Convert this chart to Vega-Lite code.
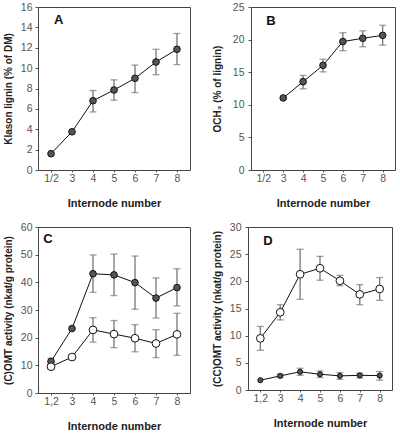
{
  "$schema": "https://vega.github.io/schema/vega-lite/v6.json",
  "padding": {"left": 2, "top": 1, "right": 2, "bottom": 1},
  "background": "white",
  "datasets": {
    "A": [
      {"node": "1/2", "s": "f", "value": 1.6},
      {"node": "3", "s": "f", "value": 3.75},
      {"node": "4", "s": "f", "value": 6.8, "lo": 5.7, "hi": 7.8},
      {"node": "5", "s": "f", "value": 7.85, "lo": 6.85, "hi": 8.85},
      {"node": "6", "s": "f", "value": 9.0, "lo": 7.6, "hi": 10.3},
      {"node": "7", "s": "f", "value": 10.6, "lo": 9.35, "hi": 11.85},
      {"node": "8", "s": "f", "value": 11.85, "lo": 10.35, "hi": 13.4}
    ],
    "B": [
      {"node": "3", "s": "f", "value": 11.05},
      {"node": "4", "s": "f", "value": 13.55, "lo": 12.45, "hi": 14.5},
      {"node": "5", "s": "f", "value": 16.05, "lo": 15.05, "hi": 17.0},
      {"node": "6", "s": "f", "value": 19.7, "lo": 18.3, "hi": 21.05},
      {"node": "7", "s": "f", "value": 20.2, "lo": 18.9, "hi": 21.35},
      {"node": "8", "s": "f", "value": 20.65, "lo": 19.15, "hi": 22.2}
    ],
    "C": [
      {"node": "1,2", "s": "f", "value": 11.4, "lo": 10.2, "hi": 12.6},
      {"node": "3", "s": "f", "value": 23.3},
      {"node": "4", "s": "f", "value": 43.1, "lo": 36.4, "hi": 49.9},
      {"node": "5", "s": "f", "value": 42.7, "lo": 35.2, "hi": 50.2},
      {"node": "6", "s": "f", "value": 39.9, "lo": 30.3, "hi": 49.5},
      {"node": "7", "s": "f", "value": 34.3, "lo": 27.1, "hi": 41.6},
      {"node": "8", "s": "f", "value": 38.1, "lo": 31.5, "hi": 44.9},
      {"node": "1,2", "s": "o", "value": 9.5, "lo": 8.6, "hi": 10.5},
      {"node": "3", "s": "o", "value": 13.0},
      {"node": "4", "s": "o", "value": 22.8, "lo": 18.4, "hi": 27.2},
      {"node": "5", "s": "o", "value": 21.3, "lo": 16.4, "hi": 26.2},
      {"node": "6", "s": "o", "value": 19.8, "lo": 14.9, "hi": 24.7},
      {"node": "7", "s": "o", "value": 17.9, "lo": 12.8, "hi": 22.9},
      {"node": "8", "s": "o", "value": 21.2, "lo": 13.6, "hi": 28.8}
    ],
    "D": [
      {"node": "1,2", "s": "o", "value": 9.5, "lo": 7.3, "hi": 11.7},
      {"node": "3", "s": "o", "value": 14.3, "lo": 12.9, "hi": 15.7},
      {"node": "4", "s": "o", "value": 21.3, "lo": 16.7, "hi": 25.9},
      {"node": "5", "s": "o", "value": 22.4, "lo": 20.2, "hi": 24.6},
      {"node": "6", "s": "o", "value": 20.1, "lo": 19.2, "hi": 21.1},
      {"node": "7", "s": "o", "value": 17.6, "lo": 15.7, "hi": 19.4},
      {"node": "8", "s": "o", "value": 18.6, "lo": 16.5, "hi": 20.7},
      {"node": "1,2", "s": "f", "value": 1.8},
      {"node": "3", "s": "f", "value": 2.6, "lo": 2.3, "hi": 2.9},
      {"node": "4", "s": "f", "value": 3.35, "lo": 2.7, "hi": 4.0},
      {"node": "5", "s": "f", "value": 2.9, "lo": 2.3, "hi": 3.5},
      {"node": "6", "s": "f", "value": 2.6, "lo": 1.95, "hi": 3.2},
      {"node": "7", "s": "f", "value": 2.7, "lo": 2.2, "hi": 3.1},
      {"node": "8", "s": "f", "value": 2.65, "lo": 1.8, "hi": 3.4}
    ]
  },
  "vconcat": [
    {
      "hconcat": [
        {
          "width": 152, "height": 163,
          "data": {"name": "A"},
          "encoding": {
            "x": {"field": "node", "type": "ordinal", "sort": null,
              "scale": {"type": "point", "domain": ["1/2", "3", "4", "5", "6", "7", "8"], "padding": 0.62},
              "axis": {"title": "Internode number"}}
          },
          "layer": [
            {"mark": {"type": "rule", "color": "#777", "strokeWidth": 1.3},
             "encoding": {"y": {"field": "lo", "type": "quantitative", "title": "Klason lignin (% of DM)", "scale": {"domain": [0, 16], "nice": false}, "axis": {"values": [0, 2, 4, 6, 8, 10, 12, 14, 16]}}, "y2": {"field": "hi"}}},
            {"mark": {"type": "tick", "color": "#777", "size": 7, "thickness": 1.3},
             "encoding": {"y": {"field": "lo", "type": "quantitative", "title": "Klason lignin (% of DM)", "axis": {"values": [0, 2, 4, 6, 8, 10, 12, 14, 16]}}}},
            {"mark": {"type": "tick", "color": "#777", "size": 7, "thickness": 1.3},
             "encoding": {"y": {"field": "hi", "type": "quantitative", "title": "Klason lignin (% of DM)", "axis": {"values": [0, 2, 4, 6, 8, 10, 12, 14, 16]}}}},
            {"mark": {"type": "line", "color": "#111", "strokeWidth": 1},
             "encoding": {"y": {"field": "value", "type": "quantitative", "title": "Klason lignin (% of DM)", "axis": {"values": [0, 2, 4, 6, 8, 10, 12, 14, 16]}}, "detail": {"field": "s"}}},
            {"mark": {"type": "point", "filled": true, "opacity": 1, "stroke": "#111", "strokeWidth": 1, "size": 44},
             "encoding": {"y": {"field": "value", "type": "quantitative", "title": "Klason lignin (% of DM)", "axis": {"values": [0, 2, 4, 6, 8, 10, 12, 14, 16]}},
               "fill": {"field": "s", "type": "nominal", "scale": {"domain": ["f", "o"], "range": ["#555555", "#ffffff"]}, "legend": null}}},
            {"data": {"values": [{"letter": "A"}]},
             "mark": {"type": "text", "font": "Liberation Sans", "fontSize": 13, "fontWeight": "bold", "align": "left", "baseline": "middle", "dx": 3, "color": "#111"},
             "encoding": {"x": {"datum": "1/2", "type": "ordinal"}, "y": {"datum": 14.7, "type": "quantitative", "title": "Klason lignin (% of DM)", "axis": {"values": [0, 2, 4, 6, 8, 10, 12, 14, 16]}}, "text": {"field": "letter"}}}
          ]
        },
        {
          "width": 144, "height": 163,
          "data": {"name": "B"},
          "encoding": {
            "x": {"field": "node", "type": "ordinal", "sort": null,
              "scale": {"type": "point", "domain": ["1/2", "3", "4", "5", "6", "7", "8"], "padding": 0.62},
              "axis": {"title": "Internode number"}}
          },
          "layer": [
            {"mark": {"type": "rule", "color": "#777", "strokeWidth": 1.3},
             "encoding": {"y": {"field": "lo", "type": "quantitative", "title": "OCH₃ (% of lignin)", "scale": {"domain": [0, 25], "nice": false}, "axis": {"values": [0, 5, 10, 15, 20, 25], "titlePadding": 10, "labelPadding": 4}}, "y2": {"field": "hi"}}},
            {"mark": {"type": "tick", "color": "#777", "size": 7, "thickness": 1.3},
             "encoding": {"y": {"field": "lo", "type": "quantitative", "title": "OCH₃ (% of lignin)", "axis": {"values": [0, 5, 10, 15, 20, 25], "titlePadding": 10, "labelPadding": 4}}}},
            {"mark": {"type": "tick", "color": "#777", "size": 7, "thickness": 1.3},
             "encoding": {"y": {"field": "hi", "type": "quantitative", "title": "OCH₃ (% of lignin)", "axis": {"values": [0, 5, 10, 15, 20, 25], "titlePadding": 10, "labelPadding": 4}}}},
            {"mark": {"type": "line", "color": "#111", "strokeWidth": 1},
             "encoding": {"y": {"field": "value", "type": "quantitative", "title": "OCH₃ (% of lignin)", "axis": {"values": [0, 5, 10, 15, 20, 25], "titlePadding": 10, "labelPadding": 4}}, "detail": {"field": "s"}}},
            {"mark": {"type": "point", "filled": true, "opacity": 1, "stroke": "#111", "strokeWidth": 1, "size": 44},
             "encoding": {"y": {"field": "value", "type": "quantitative", "title": "OCH₃ (% of lignin)", "axis": {"values": [0, 5, 10, 15, 20, 25], "titlePadding": 10, "labelPadding": 4}},
               "fill": {"field": "s", "type": "nominal", "scale": {"domain": ["f", "o"], "range": ["#555555", "#ffffff"]}, "legend": null}}},
            {"data": {"values": [{"letter": "B"}]},
             "mark": {"type": "text", "font": "Liberation Sans", "fontSize": 13, "fontWeight": "bold", "align": "left", "baseline": "middle", "dx": 3, "color": "#111"},
             "encoding": {"x": {"datum": "1/2", "type": "ordinal"}, "y": {"datum": 22.9, "type": "quantitative", "title": "OCH₃ (% of lignin)", "axis": {"values": [0, 5, 10, 15, 20, 25], "titlePadding": 10, "labelPadding": 4}}, "text": {"field": "letter"}}}
          ]
        }
      ]
    },
    {
      "hconcat": [
        {
          "width": 152, "height": 166,
          "data": {"name": "C"},
          "encoding": {
            "x": {"field": "node", "type": "ordinal", "sort": null,
              "scale": {"type": "point", "domain": ["1,2", "3", "4", "5", "6", "7", "8"], "padding": 0.62},
              "axis": {"title": "Internode number"}}
          },
          "layer": [
            {"mark": {"type": "rule", "color": "#777", "strokeWidth": 1.3},
             "encoding": {"y": {"field": "lo", "type": "quantitative", "title": "(C)OMT activity (nkat/g protein)", "scale": {"domain": [0, 60], "nice": false}, "axis": {"values": [0, 10, 20, 30, 40, 50, 60]}}, "y2": {"field": "hi"}}},
            {"mark": {"type": "tick", "color": "#777", "size": 7, "thickness": 1.3},
             "encoding": {"y": {"field": "lo", "type": "quantitative", "title": "(C)OMT activity (nkat/g protein)", "axis": {"values": [0, 10, 20, 30, 40, 50, 60]}}}},
            {"mark": {"type": "tick", "color": "#777", "size": 7, "thickness": 1.3},
             "encoding": {"y": {"field": "hi", "type": "quantitative", "title": "(C)OMT activity (nkat/g protein)", "axis": {"values": [0, 10, 20, 30, 40, 50, 60]}}}},
            {"mark": {"type": "line", "color": "#111", "strokeWidth": 1},
             "encoding": {"y": {"field": "value", "type": "quantitative", "title": "(C)OMT activity (nkat/g protein)", "axis": {"values": [0, 10, 20, 30, 40, 50, 60]}}, "detail": {"field": "s"}}},
            {"mark": {"type": "point", "filled": true, "opacity": 1, "stroke": "#111", "strokeWidth": 1},
             "encoding": {"y": {"field": "value", "type": "quantitative", "title": "(C)OMT activity (nkat/g protein)", "axis": {"values": [0, 10, 20, 30, 40, 50, 60]}},
               "size": {"condition": {"test": "datum.s == 'f'", "value": 44}, "value": 60},
               "fill": {"field": "s", "type": "nominal", "scale": {"domain": ["f", "o"], "range": ["#555555", "#ffffff"]}, "legend": null}}},
            {"data": {"values": [{"letter": "C"}]},
             "mark": {"type": "text", "font": "Liberation Sans", "fontSize": 13, "fontWeight": "bold", "align": "center", "baseline": "middle", "dx": -3, "color": "#111"},
             "encoding": {"x": {"datum": "1,2", "type": "ordinal"}, "y": {"datum": 55.5, "type": "quantitative", "title": "(C)OMT activity (nkat/g protein)", "axis": {"values": [0, 10, 20, 30, 40, 50, 60]}}, "text": {"field": "letter"}}}
          ]
        },
        {
          "width": 144, "height": 163,
          "data": {"name": "D"},
          "encoding": {
            "x": {"field": "node", "type": "ordinal", "sort": null,
              "scale": {"type": "point", "domain": ["1,2", "3", "4", "5", "6", "7", "8"], "padding": 0.62},
              "axis": {"title": "Internode number"}}
          },
          "layer": [
            {"mark": {"type": "rule", "color": "#777", "strokeWidth": 1.3},
             "encoding": {"y": {"field": "lo", "type": "quantitative", "title": "(CC)OMT activity (nkat/g protein)", "scale": {"domain": [0, 30], "nice": false}, "axis": {"values": [0, 5, 10, 15, 20, 25, 30], "labelPadding": 4}}, "y2": {"field": "hi"}}},
            {"mark": {"type": "tick", "color": "#777", "size": 7, "thickness": 1.3},
             "encoding": {"y": {"field": "lo", "type": "quantitative", "title": "(CC)OMT activity (nkat/g protein)", "axis": {"values": [0, 5, 10, 15, 20, 25, 30], "labelPadding": 4}}}},
            {"mark": {"type": "tick", "color": "#777", "size": 7, "thickness": 1.3},
             "encoding": {"y": {"field": "hi", "type": "quantitative", "title": "(CC)OMT activity (nkat/g protein)", "axis": {"values": [0, 5, 10, 15, 20, 25, 30], "labelPadding": 4}}}},
            {"mark": {"type": "line", "color": "#111", "strokeWidth": 1},
             "encoding": {"y": {"field": "value", "type": "quantitative", "title": "(CC)OMT activity (nkat/g protein)", "axis": {"values": [0, 5, 10, 15, 20, 25, 30], "labelPadding": 4}}, "detail": {"field": "s"}}},
            {"mark": {"type": "point", "filled": true, "opacity": 1, "stroke": "#111", "strokeWidth": 1},
             "encoding": {"y": {"field": "value", "type": "quantitative", "title": "(CC)OMT activity (nkat/g protein)", "axis": {"values": [0, 5, 10, 15, 20, 25, 30], "labelPadding": 4}},
               "size": {"condition": {"test": "datum.s == 'f'", "value": 26}, "value": 60},
               "fill": {"field": "s", "type": "nominal", "scale": {"domain": ["f", "o"], "range": ["#555555", "#ffffff"]}, "legend": null}}},
            {"data": {"values": [{"letter": "D"}]},
             "mark": {"type": "text", "font": "Liberation Sans", "fontSize": 13, "fontWeight": "bold", "align": "left", "baseline": "middle", "dx": 3, "color": "#111"},
             "encoding": {"x": {"datum": "1,2", "type": "ordinal"}, "y": {"datum": 27.5, "type": "quantitative", "title": "(CC)OMT activity (nkat/g protein)", "axis": {"values": [0, 5, 10, 15, 20, 25, 30], "labelPadding": 4}}, "text": {"field": "letter"}}}
          ]
        }
      ]
    }
  ],
  "spacing": 12,
  "config": {
    "concat": {"spacing": 20},
    "view": {"stroke": "#444", "strokeWidth": 1},
    "axis": {"domain": false, "grid": false, "labelFont": "Liberation Sans", "labelFontSize": 10.5, "labelColor": "#555",
      "titleFont": "Liberation Sans", "titleFontWeight": "bold", "titleColor": "#222", "tickColor": "#555", "tickSize": 3},
    "axisX": {"labelAngle": 0, "tickSize": 2, "labelPadding": 1, "titleFontSize": 11, "titlePadding": 14},
    "axisY": {"labelPadding": 3, "titleFontSize": 10, "titlePadding": 7}
  }
}
